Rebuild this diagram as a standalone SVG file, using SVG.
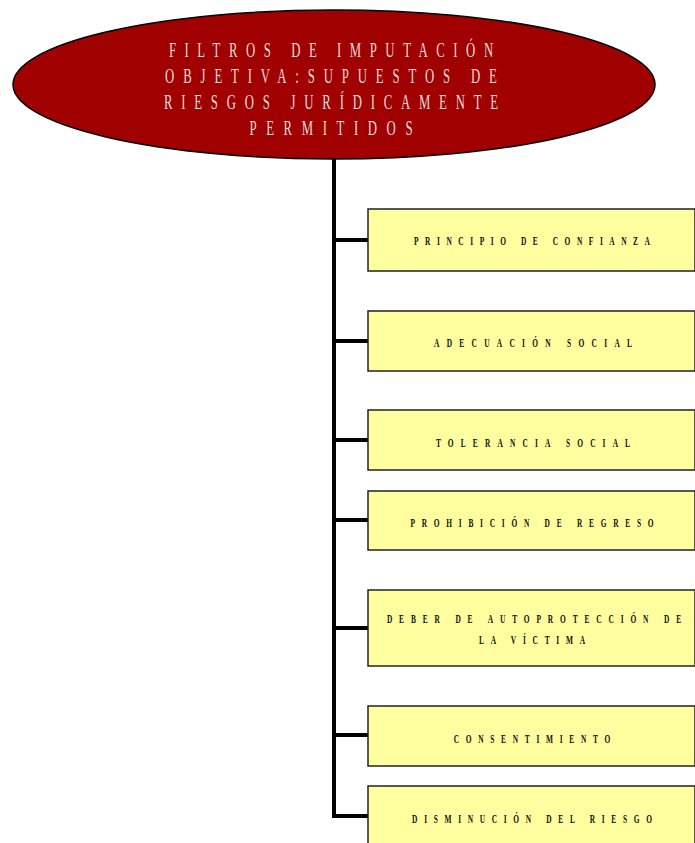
<svg xmlns="http://www.w3.org/2000/svg" width="695" height="843" viewBox="0 0 695 843">
<style>
.title{font-family:"Liberation Serif","Times New Roman",serif;font-size:22px;fill:#ecdcdc;text-anchor:middle}
.box{fill:#ffffa0;stroke:#222;stroke-width:1.5}
.lbl{font-family:"Liberation Serif","Times New Roman",serif;font-size:13.5px;font-weight:bold;fill:#111;text-anchor:middle}
.conn{fill:none;stroke:#000;stroke-width:4}
</style>
<rect width="695" height="843" fill="#fff"/>
<g id="connectors">
<path class="conn" d="M334 159 V818"/>
<path class="conn" d="M334 240 H368 M334 341 H368 M334 440 H368 M334 520 H368 M334 628 H368 M334 735 H368 M332 816 H368"/>
</g>
<g id="root">
<ellipse cx="334" cy="84.5" rx="321" ry="74.5" fill="#a00000" stroke="#000" stroke-width="1.5"/>
<g transform="translate(331,0) scale(0.58,1)">
<text class="title" x="0" y="57" textLength="559" lengthAdjust="spacing">FILTROS DE IMPUTACIÓN</text>
<text class="title" x="0" y="83" textLength="572" lengthAdjust="spacing">OBJETIVA:SUPUESTOS DE</text>
<text class="title" x="0" y="109" textLength="576" lengthAdjust="spacing">RIESGOS JURÍDICAMENTE</text>
<text class="title" x="0" y="135" textLength="281" lengthAdjust="spacing">PERMITIDOS</text>
</g>
</g>
<g id="n1">
<rect class="box" x="368" y="209" width="327" height="62"/>
<text class="lbl" transform="translate(532,245) scale(0.55,1)" textLength="429" lengthAdjust="spacing">PRINCIPIO DE CONFIANZA</text>
</g>
<g id="n2">
<rect class="box" x="368" y="311" width="327" height="60"/>
<text class="lbl" transform="translate(533,346.5) scale(0.55,1)" textLength="360" lengthAdjust="spacing">ADECUACIÓN SOCIAL</text>
</g>
<g id="n3">
<rect class="box" x="368" y="410" width="327" height="60"/>
<text class="lbl" transform="translate(533,446.5) scale(0.55,1)" textLength="353" lengthAdjust="spacing">TOLERANCIA SOCIAL</text>
</g>
<g id="n4">
<rect class="box" x="368" y="491" width="327" height="59"/>
<text class="lbl" transform="translate(532,526.5) scale(0.55,1)" textLength="442" lengthAdjust="spacing">PROHIBICIÓN DE REGRESO</text>
</g>
<g id="n5">
<rect class="box" x="368" y="590" width="327" height="76"/>
<text class="lbl" transform="translate(534,623) scale(0.55,1)" textLength="535" lengthAdjust="spacing">DEBER DE AUTOPROTECCIÓN DE</text>
<text class="lbl" transform="translate(532,644) scale(0.55,1)" textLength="193" lengthAdjust="spacing">LA VÍCTIMA</text>
</g>
<g id="n6">
<rect class="box" x="368" y="706" width="327" height="60"/>
<text class="lbl" transform="translate(532,742.5) scale(0.55,1)" textLength="285" lengthAdjust="spacing">CONSENTIMIENTO</text>
</g>
<g id="n7">
<rect class="box" x="368" y="786" width="327" height="70"/>
<text class="lbl" transform="translate(532,822.5) scale(0.55,1)" textLength="436" lengthAdjust="spacing">DISMINUCIÓN DEL RIESGO</text>
</g>
</svg>
